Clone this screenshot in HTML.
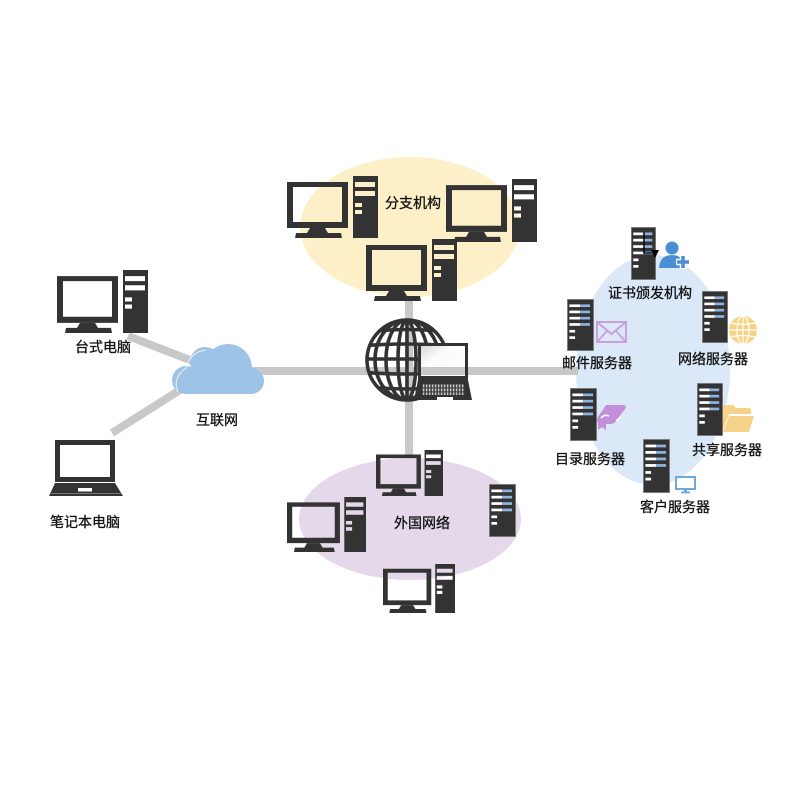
<!DOCTYPE html>
<html><head><meta charset="utf-8"><style>
html,body{margin:0;padding:0;background:#fff;}
svg{display:block;}
text{font-family:"Liberation Sans","Noto Sans CJK SC",sans-serif;font-size:14px;fill:#111;stroke:#111;stroke-width:0.3px;text-anchor:middle;dominant-baseline:central;}
</style></head><body>
<svg width="800" height="800" viewBox="0 0 800 800" xmlns="http://www.w3.org/2000/svg">
<defs>
  <symbol id="desk" viewBox="0 0 91 62" preserveAspectRatio="none">
    <path fill="#333" fill-rule="evenodd" d="M0 6h61v46h-61z M6 11h49v35h-49z"/>
    <path fill="#333" d="M23 52h15l3 5h13l1 5h-47l1-5h11z"/>
    <path fill="#333" fill-rule="evenodd" d="M66 0h25v62h-25z M68 6h20v5h-20z M68 15h20v5h-20z M68 27h7v4h-7z M68 34h7v4h-7z"/>
  </symbol>
  <symbol id="srv" viewBox="0 0 26 53" preserveAspectRatio="none">
    <rect x="0.4" y="0.4" width="25.2" height="52.2" fill="#333" stroke="#8a8a8a" stroke-width="0.8"/>
    <g>
      <rect x="2.3" y="5.5" width="10.4" height="2.7" fill="#fff"/><rect x="12.7" y="5.5" width="9.5" height="2.7" fill="#8db3e2"/>
      <rect x="2.3" y="11.8" width="10.4" height="2.7" fill="#fff"/><rect x="12.7" y="11.8" width="9.5" height="2.7" fill="#8db3e2"/>
      <rect x="2.3" y="18.2" width="10.4" height="2.7" fill="#fff"/><rect x="12.7" y="18.2" width="9.5" height="2.7" fill="#8db3e2"/>
      <rect x="2.3" y="24.6" width="10.4" height="2.7" fill="#fff"/><rect x="12.7" y="24.6" width="9.5" height="2.7" fill="#8db3e2"/>
      <rect x="2.3" y="31.5" width="5.5" height="2.7" fill="#fff"/>
      <rect x="2.3" y="38" width="5.5" height="2.7" fill="#fff"/>
    </g>
  </symbol>
  <clipPath id="gclip"><circle cx="407" cy="360" r="40"/></clipPath>
  <linearGradient id="scr" x1="0" y1="0" x2="1" y2="1">
    <stop offset="0" stop-color="#d8d8d8"/><stop offset="0.35" stop-color="#fbfbfb"/><stop offset="1" stop-color="#ffffff"/>
  </linearGradient>
  <pattern id="kb" x="422" y="384" width="3" height="4" patternUnits="userSpaceOnUse">
    <rect x="0" y="0" width="3" height="4" fill="#333"/>
    <rect x="0.8" y="0.4" width="1.6" height="3" fill="#c8c8c8"/>
  </pattern>
</defs>

<!-- ellipses -->
<ellipse cx="410" cy="227" rx="110" ry="70" fill="#fdf0c9"/>
<ellipse cx="410" cy="519" rx="111" ry="61" fill="#e4d8ea"/>
<ellipse cx="653" cy="370" rx="77" ry="115" fill="#dae8f8"/>

<!-- connectors -->
<g stroke="#c8c8c8" stroke-width="8" fill="none">
  <line x1="128" y1="336" x2="195" y2="362"/>
  <line x1="112" y1="433" x2="180" y2="390"/>
  <line x1="250" y1="371" x2="578" y2="371"/>
  <line x1="409" y1="301" x2="409" y2="458"/>
</g>

<!-- cloud -->
<g fill="#9dc3e6">
  <circle cx="228" cy="368" r="24"/>
  <circle cx="205" cy="362" r="15"/>
  <circle cx="186" cy="380" r="14"/>
  <circle cx="251" cy="381" r="13"/>
  <rect x="186" y="372" width="65" height="22"/>
</g>
<path d="M178 392 Q172 378 186 368 Q190 352 206 350" stroke="#fff" stroke-width="1" fill="none" opacity="0.8"/>

<!-- globe -->
<g stroke="#333" stroke-width="3.6" fill="none">
  <circle cx="407" cy="360" r="40"/>
  <g clip-path="url(#gclip)">
    <ellipse cx="407" cy="360" rx="21" ry="40"/>
    <ellipse cx="407" cy="360" rx="9" ry="40"/>
    <line x1="407" y1="318" x2="407" y2="402"/>
    <ellipse cx="407" cy="360" rx="32" ry="40"/>
    <path d="M360 333 Q407 326 454 333"/>
    <path d="M360 346 Q407 342 454 346"/>
    <line x1="360" y1="359" x2="454" y2="359"/>
    <path d="M360 372 Q407 376 454 372"/>
    <path d="M360 386 Q407 392 454 386"/>
  </g>
</g>

<!-- center laptop -->
<rect x="418" y="343" width="50" height="37" fill="#333"/>
<rect x="421" y="346" width="44" height="30" fill="url(#scr)"/>
<rect x="421" y="367" width="44" height="8" fill="#c8c8c8"/>
<rect x="468" y="367" width="4" height="8" fill="#c8c8c8"/>
<path d="M418 380h50l4 20h-58z" fill="#333"/>
<rect x="422" y="384" width="42" height="11" fill="url(#kb)"/>
<rect x="437" y="397" width="16" height="3.5" fill="#fff"/>

<!-- desktop & laptop left -->
<use href="#desk" x="57" y="270" width="91" height="63"/>
<path fill="#333" fill-rule="evenodd" d="M55 440h60v42h-60z M60 445h50v32h-50z"/>
<path fill="#333" d="M55 483h60l8 13h-74z"/>
<rect x="78" y="488" width="14" height="3.5" fill="#fff"/>
<rect x="51" y="493" width="70" height="0.8" fill="#888"/>

<!-- branch computers -->
<use href="#desk" x="287" y="176" width="91" height="62"/>
<use href="#desk" x="446" y="179" width="91" height="63"/>
<use href="#desk" x="366" y="239" width="91" height="62"/>

<!-- foreign computers -->
<use href="#desk" x="376" y="450" width="67" height="46"/>
<use href="#desk" x="287" y="497" width="79" height="55"/>
<use href="#desk" x="383" y="564" width="72" height="49"/>
<use href="#srv" x="489" y="484" width="27" height="53"/>

<!-- servers -->
<use href="#srv" x="631" y="227" width="25" height="53"/>
<use href="#srv" x="567" y="299" width="27" height="52"/>
<use href="#srv" x="702" y="291" width="26" height="52"/>
<use href="#srv" x="570" y="388" width="27" height="53"/>
<use href="#srv" x="697" y="383" width="26" height="53"/>
<use href="#srv" x="643" y="439" width="27" height="54"/>

<!-- cert arrow artifact -->
<path d="M644 232V253H652" stroke="#000" stroke-width="1.3" fill="none"/>
<path d="M651 250L659 250L655 258Z" fill="#000"/>

<!-- user icon -->
<g fill="#4a8fd4">
  <circle cx="672" cy="248" r="6.5"/>
  <path d="M659 268 Q660 255 672 255 Q684 255 685 268Z"/>
</g>
<path d="M683 255v14M676 262h14" stroke="#fff" stroke-width="6.5"/>
<path d="M683 256v12M677 262h12" stroke="#4a8fd4" stroke-width="3.5"/>

<!-- envelope -->
<g stroke="#c9a0dc" stroke-width="2" fill="none">
  <rect x="597" y="322" width="29" height="20"/>
  <path d="M597 322L611.5 334L626 322"/>
  <path d="M597 342L607 331M626 342L616 331"/>
</g>

<!-- web globe -->
<circle cx="743" cy="330" r="14" fill="#f7d283"/>
<g stroke="#fff" stroke-width="1.2" fill="none">
  <ellipse cx="743" cy="330" rx="6" ry="14"/>
  <line x1="743" y1="316" x2="743" y2="344"/>
  <line x1="729" y1="330" x2="757" y2="330"/>
  <path d="M731 323 Q743 326 755 323M731 337 Q743 334 755 337"/>
</g>

<!-- directory icon -->
<path fill="#c38fd8" d="M606 405 L624 405 Q627 406 625 409 L616 421 Q614 424 610 424 L606 424 L606 430 L602 427 L598 430 L598 423 Q596 420 598 417 Z"/>
<path d="M601 418 Q604 414 609 416" stroke="#fff" stroke-width="1.5" fill="none"/>
<path d="M616 421 L621 417" stroke="#fff" stroke-width="1.5"/>

<!-- folder -->
<path fill="#f5d389" d="M723 407 Q723 405 725 405 L733 405 L736 408 L749 408 Q751 408 751 410 L751 414 L729 414 L723 430 Z"/>
<path fill="#f5d389" d="M729 416 L754 416 L749 432 L723 432 Z"/>

<!-- client monitor -->
<rect x="676" y="477" width="19" height="12" fill="none" stroke="#6fa8dc" stroke-width="2"/>
<rect x="684" y="489" width="3" height="3" fill="#6fa8dc"/>
<rect x="681" y="491.5" width="9" height="1.8" fill="#6fa8dc"/>

<!-- labels -->
<text x="103" y="347">台式电脑</text>
<text x="217" y="420">互联网</text>
<text x="85" y="522">笔记本电脑</text>
<text x="413" y="203">分支机构</text>
<text x="422" y="523">外国网络</text>
<text x="650" y="293">证书颁发机构</text>
<text x="597" y="363">邮件服务器</text>
<text x="713" y="359">网络服务器</text>
<text x="590" y="459">目录服务器</text>
<text x="727" y="450">共享服务器</text>
<text x="675" y="507">客户服务器</text>
</svg>
</body></html>
